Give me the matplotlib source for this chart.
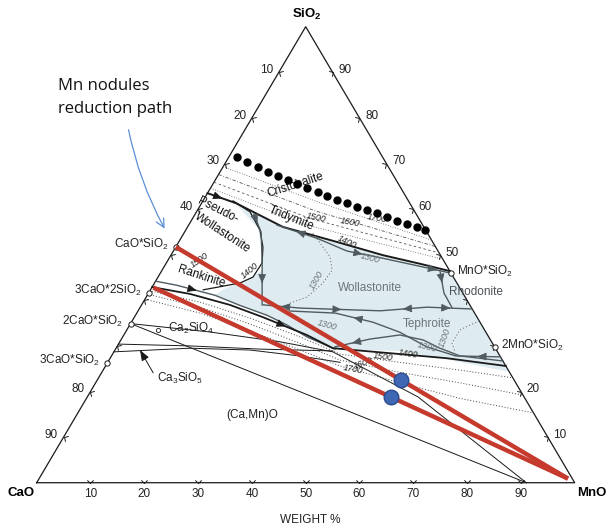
import numpy as np
import matplotlib
matplotlib.use('Agg')
import matplotlib.pyplot as plt
from matplotlib.path import Path
from matplotlib.markers import MarkerStyle
from matplotlib.transforms import Affine2D

plt.rcParams['font.family'] = ['Liberation Sans', 'DejaVu Sans']
plt.rcParams['mathtext.fontset'] = 'custom'
plt.rcParams['mathtext.rm'] = 'Liberation Sans'
plt.rcParams['mathtext.bf'] = 'Liberation Sans:bold'
plt.rcParams['mathtext.default'] = 'regular'

# All compositions are weight % as (MnO, SiO2); CaO is the balance
tick_values = [10, 20, 30, 40, 50, 60, 70, 80, 90]
bottom_labels = [10, 20, 30, 40, 50, 60, 70, 80, 90]
left_labels = [10, 20, 30, 40, 80, 90]      # CaO wt%, 50-70 give way to compound names
right_labels = [10, 20, 50, 60, 70, 80, 90]  # SiO2 wt%, 30-40 give way to compound names
corner_mno = [0, 100, 0, 0]
corner_sio2 = [0, 0, 100, 0]

# Compounds on the CaO-SiO2 and MnO-SiO2 sides
cao_compounds = ['CaO*SiO$_2$', '3CaO*2SiO$_2$', '2CaO*SiO$_2$', '3CaO*SiO$_2$']
cao_compound_sio2 = [51.7, 41.7, 34.9, 26.3]
mno_compounds = ['MnO*SiO$_2$', '2MnO*SiO$_2$']
mno_compound_sio2 = [45.9, 29.75]

# Mn nodules reduction paths (red) and the two sample points (blue)
path_start_mno = [0.0, 0.3]
path_start_sio2 = [51.7, 42.8]
path_end_mno = 98.3
path_end_sio2 = 0.9
sample_mno = [56.4, 56.5]
sample_sio2 = [22.5, 18.7]

# Cristobalite liquidus (big black dots)
cristobalite_mno = [1.5, 3.9, 6.5, 8.9, 11.2, 13.5, 15.6, 17.9, 20.4, 22.5,
                    24.8, 27.0, 29.3, 31.5, 33.7, 36.0, 38.3, 40.5, 42.6, 44.4]
cristobalite_sio2 = [71.4, 70.4, 69.3, 68.1, 67.3, 66.4, 65.5, 64.6, 63.7, 62.9,
                     62.0, 61.3, 60.5, 59.8, 59.1, 58.3, 57.4, 56.7, 56.1, 55.4]

# Low temperature liquid area (light blue)
liquid_mno = [6.5, 17.8, 29.5, 39.5, 47.4, 54.1, 75.7, 63.4, 53.1, 40.8,
              34.3, 29.2, 24.5, 18.3, 12.6, 13.6, 16.6, 18.6, 15.8, 13.2]
liquid_sio2 = [61.1, 55.9, 52.6, 49.7, 47.7, 45.9, 24.3, 26.9, 28.9, 29.3,
               31.95, 34.6, 36.7, 38.9, 41.1, 42.5, 44.2, 46.6, 52.1, 55.8]

# Phase boundaries
tridymite_mno = [0.0, 6.4, 17.7, 29.4, 39.4, 47.3, 53.6]
tridymite_sio2 = [63.5, 61.3, 56.1, 52.8, 49.9, 48.0, 46.4]
woll_top_mno = [16.4, 25.3, 32.3, 38.5, 48.2, 53.8]
woll_top_sio2 = [56.5, 53.6, 50.8, 49.5, 47.3, 46.0]
pseudo_mno = [5.6, 9.95, 13.8, 16.2, 17.8, 17.65, 15.9, 9.8]
pseudo_sio2 = [61.8, 59.4, 55.4, 51.7, 48.2, 45.1, 43.8, 42.3]
woll_left_mno = [10.9, 14.2, 17.5, 22.4]
woll_left_sio2 = [58.9, 55.0, 48.8, 39.0]
woll_bottom_mno = [22.6, 29.8, 45.0, 53.3, 61.9]
woll_bottom_sio2 = [39.0, 38.3, 37.7, 38.5, 38.1]
rhodonite_mno = [51.9, 54.9, 57.9]
rhodonite_sio2 = [46.2, 41.6, 38.5]
teph_top_mno = [28.3, 36.9, 44.9, 51.0, 57.6, 64.0, 72.4]
teph_top_sio2 = [37.65, 37.2, 35.2, 33.0, 29.8, 27.8, 27.6]
teph_low_mno = [40.55, 46.2, 51.3, 56.2, 60.2, 64.8, 73.3]
teph_low_sio2 = [29.8, 31.5, 32.4, 31.3, 29.5, 27.8, 26.7]
rank_top_mno = [0.0, 4.4, 12.6, 18.3, 24.5, 29.2, 34.3, 40.8]
rank_top_sio2 = [44.2, 43.3, 41.1, 38.9, 36.7, 34.6, 31.95, 29.3]
liq1400_mno = [0.0, 7.8, 16.4, 23.9, 34.0, 40.3, 51.5, 62.6, 74.4]
liq1400_sio2 = [42.9, 41.4, 39.0, 36.3, 32.4, 29.5, 28.4, 27.3, 25.6]
c2s_line1_mno = [0.0, 91.0]
c2s_line1_sio2 = [34.9, 0.0]
c2s_line2_mno = [0.0, 15.7, 29.8, 40.7, 61.5, 91.0]
c2s_line2_sio2 = [34.9, 33.05, 30.9, 28.7, 18.8, 0.0]
c3s_top_mno = [0.0, 13.5, 26.9, 40.6]
c3s_top_sio2 = [30.4, 30.0, 29.3, 28.9]
c3s_low_mno = [0.0, 13.7, 25.1, 35.0, 43.2]
c3s_low_sio2 = [28.7, 29.5, 29.1, 27.8, 26.4]

# Isotherms
iso_low_mno = [[0.4, 10.55, 21.6, 32.9, 42.3, 54.3, 66.3, 77.0],
               [0.5, 11.1, 22.25, 33.6, 42.9, 55.4, 67.7, 80.8],
               [0.6, 11.75, 23.0, 34.4, 43.6, 56.6, 69.4, 84.7]]
iso_low_sio2 = [[42.0, 39.6, 36.1, 32.0, 28.2, 26.4, 24.7, 23.0],
                [41.2, 38.5, 34.8, 30.6, 26.9, 24.2, 21.9, 19.2],
                [40.1, 37.2, 33.3, 29.1, 25.6, 21.9, 18.5, 15.3]]
iso_high_mno = [[0, 22, 46.8], [0, 22, 48.2], [0, 22, 49.6], [0, 22, 51.0]]
iso_high_sio2 = [[69.3, 61.4, 53.2], [67.6, 59.6, 51.8], [65.9, 57.9, 50.4], [64.6, 56.5, 49.0]]
iso_high_styles = [(0, (1, 2)), (0, (4, 2, 1, 2)), (0, (3, 3)), (0, (1, 2))]
iso1300_woll_mno = [24.0, 29.8, 31.6, 31.3, 29.9, 27.4]
iso1300_woll_sio2 = [54.7, 49.5, 46.6, 43.8, 40.7, 39.4]
iso1300_teph_mno = [64.5, 61.9, 61.9, 63.5]
iso1300_teph_sio2 = [35.5, 33.5, 30.6, 28.6]

# Field names and temperature labels: (text, MnO, SiO2, rotation, colour)
field_labels = [
    ('Cristobalite', 15.5, 65.2, 18, '#111111'),
    ('Tridymite', 18.4, 58.0, -22, '#111111'),
    ('Pseudo-', 3.75, 59.7, -27, '#111111'),
    ('Wollastonite', 7.2, 54.8, -33, '#111111'),
    ('Rankinite', 8.0, 45.1, -18, '#111111'),
    ('Wollastonite', 40.6, 42.7, 0, '#6b7478'),
    ('Rhodonite', 60.75, 41.8, 0, '#4a5256'),
    ('Tephroite', 55.05, 34.8, 0, '#6b7478'),
    ('(Ca,Mn)O', 32.7, 14.85, 0, '#222222'),
]
temp_labels = [
    ('1500', 22.9, 58.2, -12, '#222222'), ('1600', 29.6, 57.2, -10, '#222222'),
    ('1700', 34.2, 58.0, -10, '#222222'), ('1400', 31.2, 52.85, -25, '#222222'),
    ('1300', 37.35, 49.2, -15, '#6b7478'), ('1300', 29.8, 44.4, 60, '#6b7478'),
    ('1400', 16.35, 46.6, 40, '#222222'), ('1500', 5.8, 48.8, 35, '#222222'),
    ('1300', 57.6, 29.8, -15, '#6b7478'), ('1400', 54.9, 28.2, -8, '#222222'),
    ('1500', 50.6, 27.6, -8, '#222222'), ('1600', 47.5, 26.25, 20, '#222222'),
    ('1700', 46.3, 24.9, -10, '#222222'), ('1300', 36.65, 34.5, -15, '#6b7478'),
    ('1300', 60.0, 31.7, 70, '#6b7478'),
]

GRAY = '#4f5b60'
BLACK = '#1a1a1a'


def tern(mno, sio2):
    mno = np.asarray(mno, dtype=float)
    sio2 = np.asarray(sio2, dtype=float)
    return mno + sio2 / 2.0, sio2


def add_arrow(ax, mno, sio2, i, forward, color):
    x, y = tern(mno, sio2)
    xm, ym = (x[i] + x[i + 1]) / 2, (y[i] + y[i + 1]) / 2
    dx, dy = x[i + 1] - x[i], y[i + 1] - y[i]
    if not forward:
        dx, dy = -dx, -dy
    ax.annotate('', xy=(xm + 0.02 * dx, ym + 0.02 * dy), xytext=(xm - 0.02 * dx, ym - 0.02 * dy),
                arrowprops=dict(arrowstyle='-|>,head_length=0.7,head_width=0.3', color=color,
                                lw=0.6, shrinkA=0, shrinkB=0, mutation_scale=8), zorder=3)


fig = plt.figure(figsize=(6.08, 5.29), dpi=100)
ax = fig.add_axes([0, 0, 1, 1])
ax.set_xlim(-6.82, 106.19)
ax.set_ylim(-10.15, 105.86)
ax.set_axis_off()

# Liquid area
ax.fill(*tern(liquid_mno, liquid_sio2), color='#deecf1', lw=0, zorder=1)

# Frame, ticks and tick labels
ax.plot(*tern(corner_mno, corner_sio2), color=BLACK, lw=0.9, zorder=2)
chevron = Path([(-1, 1), (0, 0), (1, 1)], [Path.MOVETO, Path.LINETO, Path.LINETO])
tv = np.array(tick_values, dtype=float)
for edge_mno, edge_sio2, angle in [(tv, 0 * tv, 0), (0 * tv, 100 - tv, -120.5), (100 - tv, tv, 120.5)]:
    marker = MarkerStyle(chevron, fillstyle='none', transform=Affine2D().rotate_deg(angle))
    ax.plot(*tern(edge_mno, edge_sio2), ls='none', marker=marker, ms=4.5, mec=BLACK, mew=0.7, zorder=2)
for k in bottom_labels:
    ax.annotate(str(k), tern(k, 0), xytext=(0, -7.8), textcoords='offset points',
                ha='center', va='center', fontsize=8.5, color='#222222')
for k in left_labels:
    ax.annotate(str(k), tern(0, 100 - k), xytext=(-4, 1.5), textcoords='offset points',
                ha='right', va='center', fontsize=8.5, color='#222222')
for k in right_labels:
    ax.annotate(str(k), tern(100 - k, k), xytext=(4, 1.5), textcoords='offset points',
                ha='left', va='center', fontsize=8.5, color='#222222')

ax.annotate('CaO', tern(0, 0), xytext=(-11, -7.5), textcoords='offset points',
            ha='center', va='center', fontsize=9.5, fontweight='bold')
ax.annotate('MnO', tern(100, 0), xytext=(12.5, -7.5), textcoords='offset points',
            ha='center', va='center', fontsize=9.5, fontweight='bold')
ax.annotate('SiO$_2$', tern(0, 100), xytext=(0.7, 8.5), textcoords='offset points',
            ha='center', va='center', fontsize=9.5, fontweight='bold')
fig.text(310 / 608, 1 - 520 / 529, 'WEIGHT %', ha='center', va='center', fontsize=8.5, color='#222222')

# Phase boundaries
ax.plot(*tern(tridymite_mno, tridymite_sio2), color=BLACK, lw=1.4, zorder=2)
ax.plot(*tern(woll_top_mno, woll_top_sio2), color=GRAY, lw=1.0, zorder=2)
ax.plot(*tern(pseudo_mno, pseudo_sio2), color=BLACK, lw=0.9, zorder=2)
for mno, sio2 in [(woll_left_mno, woll_left_sio2), (woll_bottom_mno, woll_bottom_sio2),
                  (rhodonite_mno, rhodonite_sio2), (teph_top_mno, teph_top_sio2),
                  (teph_low_mno, teph_low_sio2), (rank_top_mno, rank_top_sio2)]:
    ax.plot(*tern(mno, sio2), color=GRAY, lw=1.0, zorder=2)
ax.plot(*tern(liq1400_mno, liq1400_sio2), color=BLACK, lw=1.3, zorder=2)
for mno, sio2 in [(c2s_line1_mno, c2s_line1_sio2), (c2s_line2_mno, c2s_line2_sio2),
                  (c3s_top_mno, c3s_top_sio2), (c3s_low_mno, c3s_low_sio2)]:
    ax.plot(*tern(mno, sio2), color=BLACK, lw=0.7, zorder=2)

# Isotherms
for mno, sio2 in zip(iso_low_mno, iso_low_sio2):
    ax.plot(*tern(mno, sio2), color='#444444', lw=0.7, ls=(0, (1, 2)), zorder=2)
for mno, sio2, style in zip(iso_high_mno, iso_high_sio2, iso_high_styles):
    ax.plot(*tern(mno, sio2), color='#555555', lw=0.6, ls=style, zorder=2)
ax.plot(*tern(iso1300_woll_mno, iso1300_woll_sio2), color='#777777', lw=0.8, ls=(0, (1, 2)), zorder=2)
ax.plot(*tern(iso1300_teph_mno, iso1300_teph_sio2), color='#777777', lw=0.8, ls=(0, (1, 2)), zorder=2)

# Arrows on the boundary curves
add_arrow(ax, woll_left_mno, woll_left_sio2, 0, True, GRAY)
add_arrow(ax, woll_left_mno, woll_left_sio2, 2, True, GRAY)
add_arrow(ax, woll_bottom_mno, woll_bottom_sio2, 0, False, GRAY)
add_arrow(ax, woll_bottom_mno, woll_bottom_sio2, 1, True, GRAY)
add_arrow(ax, woll_bottom_mno, woll_bottom_sio2, 2, False, GRAY)
add_arrow(ax, woll_bottom_mno, woll_bottom_sio2, 3, True, GRAY)
add_arrow(ax, rhodonite_mno, rhodonite_sio2, 0, True, GRAY)
add_arrow(ax, woll_top_mno, woll_top_sio2, 0, False, GRAY)
add_arrow(ax, woll_top_mno, woll_top_sio2, 2, True, GRAY)
add_arrow(ax, woll_top_mno, woll_top_sio2, 4, True, GRAY)
add_arrow(ax, teph_top_mno, teph_top_sio2, 1, False, GRAY)
add_arrow(ax, teph_top_mno, teph_top_sio2, 5, False, GRAY)
add_arrow(ax, teph_low_mno, teph_low_sio2, 0, False, GRAY)
add_arrow(ax, rank_top_mno, rank_top_sio2, 1, True, BLACK)
add_arrow(ax, liq1400_mno, liq1400_sio2, 3, True, BLACK)
add_arrow(ax, tridymite_mno, tridymite_sio2, 0, True, BLACK)

# Field names (below the cristobalite dots)
for text, m, s, rot, col in field_labels:
    ax.text(*tern(m, s), text, rotation=rot, rotation_mode='anchor', ha='center', va='center',
            fontsize=8.5, color=col, zorder=3)
for text, m, s, rot, col in temp_labels:
    ax.text(*tern(m, s), text, rotation=rot, rotation_mode='anchor', ha='center', va='center',
            fontsize=6.5, style='italic', color=col, zorder=3)

# Cristobalite liquidus
ax.plot(*tern(cristobalite_mno, cristobalite_sio2), ls='none', marker='o', ms=5.0,
        color='black', zorder=3.5)

# Compounds
ax.plot(*tern(np.zeros(len(cao_compound_sio2)), cao_compound_sio2), ls='none', marker='o',
        ms=3.8, mfc='white', mec=BLACK, mew=0.7, zorder=3)
for name, s in zip(cao_compounds, cao_compound_sio2):
    ax.annotate(name, tern(0, s), xytext=(-5, 1.5), textcoords='offset points',
                ha='right', va='center', fontsize=8.5, color='#222222')
mno_side = 100 - np.array(mno_compound_sio2)
ax.plot(*tern(mno_side, mno_compound_sio2), ls='none', marker='o',
        ms=3.8, mfc='white', mec=BLACK, mew=0.7, zorder=3)
for name, m, s in zip(mno_compounds, mno_side, mno_compound_sio2):
    ax.annotate(name, tern(m, s), xytext=(4.5, 1.5), textcoords='offset points',
                ha='left', va='center', fontsize=8.5, color='#222222')

ax.plot(*tern(5.8, 33.6), ls='none', marker='o', ms=3, mfc='white', mec=BLACK, mew=0.6, zorder=3)
ax.text(*tern(7.5, 33.9), 'Ca$_2$SiO$_4$', ha='left', va='center', fontsize=8.5, color='#222222', zorder=3)
ax.text(*tern(10.9, 22.9), 'Ca$_3$SiO$_5$', ha='left', va='center', fontsize=8.5, color='#222222', zorder=3)
ax.annotate('', xy=tern(4.65, 29.1), xytext=tern(9.6, 24.1),
            arrowprops=dict(arrowstyle='-|>,head_length=0.8,head_width=0.3', color=BLACK,
                            lw=0.7, shrinkA=0, shrinkB=0, mutation_scale=8), zorder=3)

# Reduction paths and samples
for m0, s0 in zip(path_start_mno, path_start_sio2):
    ax.plot(*tern([m0, path_end_mno], [s0, path_end_sio2]), color='#c63a2e', lw=3.2,
            solid_capstyle='butt', zorder=4)
ax.plot(*tern(sample_mno, sample_sio2), ls='none', marker='o', ms=10.5,
        mfc='#3f67b4', mec='#2a4c8c', mew=1.0, zorder=5)

# Annotation
fig.text(58 / 608, 1 - 86 / 529, 'Mn nodules', family='Open Sans', fontsize=12,
         ha='left', va='center', color='#111111')
fig.text(58 / 608, 1 - 109 / 529, 'reduction path', family='Open Sans', fontsize=12,
         ha='left', va='center', color='#111111')
fig.patches.append(matplotlib.patches.FancyArrowPatch(
    (128 / 608, 1 - 127 / 529), (166 / 608, 1 - 231 / 529), transform=fig.transFigure,
    arrowstyle='->,head_length=0.6,head_width=0.3', mutation_scale=10,
    connectionstyle='arc3,rad=0.08', color='#5b8fd5', lw=0.9))

fig.savefig('out.png', dpi=100)
